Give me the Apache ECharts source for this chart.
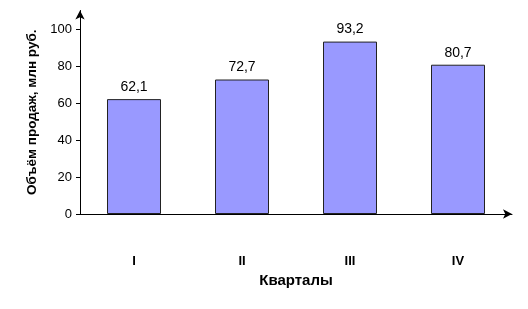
<!DOCTYPE html>
<html><head><meta charset="utf-8">
<script src="https://cdn.jsdelivr.net/npm/echarts@6/dist/echarts.min.js"></script>
<style>html,body{margin:0;padding:0;background:#fff}#c{width:528px;height:309px}</style>
</head><body><div id="c"></div>
<script>
const categories = ['I', 'II', 'III', 'IV'];
const sales = [62.1, 72.7, 93.2, 80.7];
const yTicks = [0, 20, 40, 60, 80, 100];
const xTitle = 'Кварталы';
const yTitle = 'Объём продаж, млн руб.';

const chart = echarts.init(document.getElementById('c'), null, {renderer: 'canvas'});
chart.setOption({
  animation: false,
  backgroundColor: '#fff',
  grid: {left: 80, right: 16, top: 10.5, bottom: 95, containLabel: false},
  xAxis: {
    type: 'category', data: categories, boundaryGap: true,
    axisLine: {lineStyle: {color: '#000', width: 1}, symbol: ['none', 'arrow'], symbolSize: [7, 9]},
    axisTick: {show: false},
    axisLabel: {margin: 41, color: '#000', fontFamily: 'Liberation Sans', fontWeight: 'bold', fontSize: 13},
    name: xTitle, nameLocation: 'middle', nameGap: 56,
    nameTextStyle: {color: '#000', fontFamily: 'Liberation Sans', fontWeight: 'bold', fontSize: 15}
  },
  yAxis: {
    type: 'value', min: 0, max: 110,
    axisLine: {show: true, lineStyle: {color: '#000', width: 1}, symbol: ['none', 'arrow'], symbolSize: [7, 9]},
    axisTick: {show: true, length: 4, customValues: yTicks, lineStyle: {color: '#000'}},
    axisLabel: {customValues: yTicks, margin: 8, color: '#000', fontFamily: 'Liberation Sans', fontSize: 13},
    splitLine: {show: false},
    name: yTitle, nameLocation: 'middle', nameGap: 41,
    nameTextStyle: {color: '#000', fontFamily: 'Liberation Sans', fontWeight: 'bold', fontSize: 13.5}
  },
  series: [{
    type: 'bar', data: sales, barWidth: '50%',
    itemStyle: {color: '#9999FF', borderColor: '#222', borderWidth: 1},
    label: {show: true, position: 'top', distance: 5, color: '#000', fontFamily: 'Liberation Sans', fontSize: 14,
      formatter: p => String(p.value).replace('.', ',')}
  }]
});
</script></body></html>
